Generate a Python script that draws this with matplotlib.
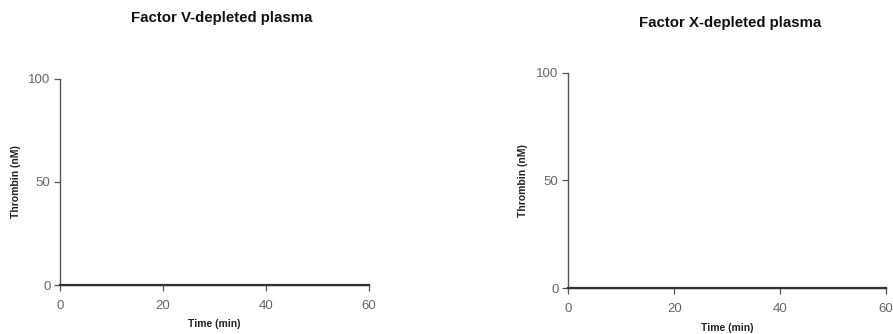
import matplotlib
matplotlib.use("Agg")
import matplotlib.pyplot as plt

plt.rcParams['font.family'] = ['Liberation Sans', 'DejaVu Sans']

titles = ["Factor V-depleted plasma", "Factor X-depleted plasma"]
time_min = [0, 10, 20, 30, 40, 50, 60]
thrombin_v = [0, 0, 0, 0, 0, 0, 0]
thrombin_x = [0, 0, 0, 0, 0, 0, 0]
x_ticks = [0, 20, 40, 60]
y_ticks = [0, 50, 100]

fig = plt.figure(figsize=(8.93, 3.34), dpi=100)
positions = [[0.0675, 0.1467, 0.3457, 0.6168], [0.6364, 0.1377, 0.3558, 0.6446]]
series = [thrombin_v, thrombin_x]
title_xy = [(221.5, 18), (730, 23)]
xlabel_y = [324, 328]

for pos, t, ys, (tx, ty), xly in zip(positions, titles, series, title_xy, xlabel_y):
    ax = fig.add_axes(pos)
    ax.plot(time_min, ys, color='#333333', lw=1.6, clip_on=False, zorder=3)
    ax.set_xlim(0, 60)
    ax.set_ylim(0, 100)
    ax.set_xticks(x_ticks)
    ax.set_yticks(y_ticks)
    for s in ['top', 'right']:
        ax.spines[s].set_visible(False)
    for s in ['left', 'bottom']:
        ax.spines[s].set_color('#555555')
        ax.spines[s].set_linewidth(1.0)
    ax.tick_params(direction='out', length=4, width=0.9, color='#555555',
                   labelcolor='#666666', labelsize=9.5)
    ax.tick_params(axis='x', pad=7)
    ax.tick_params(axis='y', pad=3)
    ax.set_xlabel("Time (min)", fontsize=7.5, fontweight='bold', color='#222222')
    ax.set_ylabel("Thrombin (nM)", fontsize=7.5, fontweight='bold', color='#222222')
    ax.yaxis.set_label_coords(-0.128, 0.5)
    bottom_px = 334 * (1 - pos[1])
    h_px = 334 * pos[3]
    ax.xaxis.set_label_coords(0.5, -(xly - bottom_px) / h_px)
    ax.xaxis.label.set_va('center')
    fig.text(tx / 893, 1 - ty / 334, t, ha='center', va='center', fontsize=10.8,
             fontweight='bold', color='#111111')

fig.savefig("out.png", dpi=100)
